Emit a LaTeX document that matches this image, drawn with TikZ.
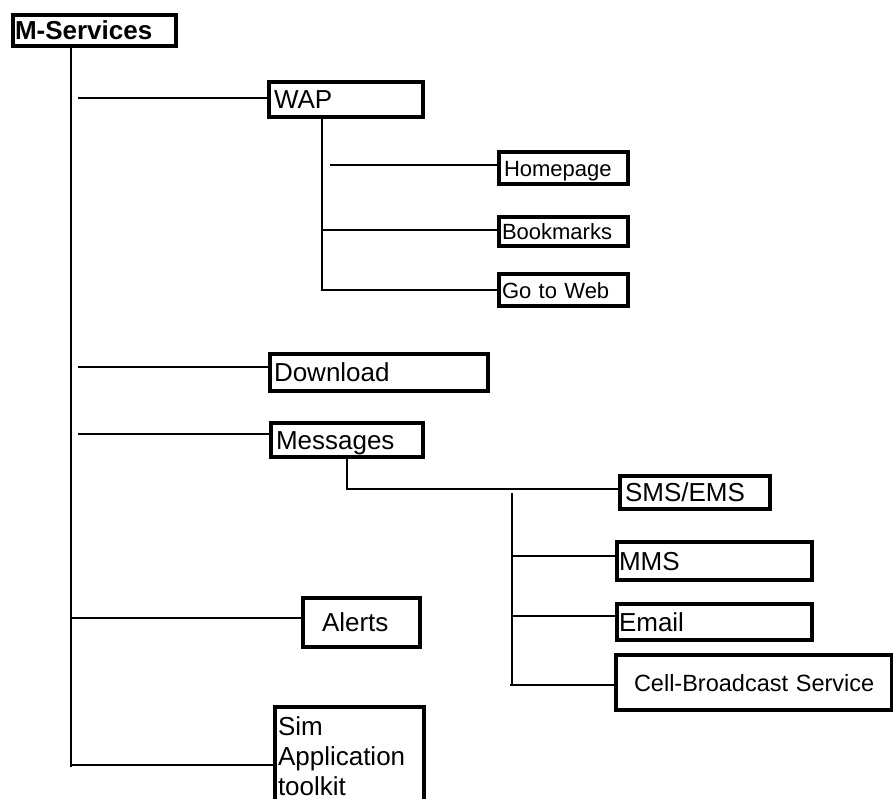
\documentclass[tikz,border=0pt]{standalone}
\usepackage{fontspec}
\setmainfont{Liberation Sans}
\begin{document}
\begin{tikzpicture}[x=1pt,y=-1pt,
  box/.style={draw, line width=4pt, anchor=north west, inner ysep=0pt,
              align=left, text height=18.5pt, text depth=0pt},
  big/.style={font=\fontsize{26pt}{31pt}\selectfont},
  mid/.style={font=\fontsize{23.5pt}{28pt}\selectfont},
  small/.style={font=\fontsize{22pt}{26pt}\selectfont, text height=16pt},
  link/.style={line width=1.4pt}]
\clip (0,0) rectangle (893,798);
\fill[white] (0,0) rectangle (893,798);

% boxes: width = text width + 2*inner xsep
\node[box, big, inner xsep=2pt, text width=159pt, minimum height=31pt] (ms) at (11,13) {\textbf{M-Services}};
\node[box, big, inner xsep=5pt, text width=144pt, minimum height=35pt] (wap) at (267,80) {WAP};
\node[box, small, inner xsep=5pt, text width=119pt, minimum height=32pt] (home) at (497,150) {Homepage};
\node[box, small, inner xsep=3pt, text width=123pt, minimum height=29pt] (book) at (497,215) {Bookmarks};
\node[box, small, inner xsep=3pt, text width=123pt, minimum height=32pt] (web) at (497,272) {Go to Web};
\node[box, big, inner xsep=4pt, text width=210pt, minimum height=37pt] (down) at (268,352) {Download};
\node[box, big, inner xsep=5pt, text width=142pt, minimum height=34pt] (msg) at (269,421) {Messages};
\node[box, big, inner xsep=5pt, text width=140pt, minimum height=33pt] (sms) at (618,474) {SMS/EMS};
\node[box, big, inner xsep=2pt, text width=191pt, minimum height=38pt] (mms) at (615,540) {MMS};
\node[box, big, inner xsep=2pt, text width=191pt, minimum height=36pt] (email) at (615,602) {Email};
\node[box, mid, inner xsep=18pt, text width=240pt, minimum height=55pt] (cell) at (614,653) {\mbox{Cell-Broadcast Service}};
\node[box, big, inner xsep=19pt, text width=79pt, minimum height=49pt] (alerts) at (301,596) {Alerts};
\node[box, big, inner xsep=3pt, inner ysep=10pt, text width=143pt,
      text height=, text depth=, font=\fontsize{26pt}{30pt}\selectfont] (sim) at (273,705)
      {Sim\\Application\\toolkit};

% main spine
\coordinate (spineEnd) at (71,767);
\draw[link] (ms.south -| spineEnd) -- (spineEnd);
\coordinate (bWap) at (78,98);
\coordinate (bDown) at (78,367);
\coordinate (bMsg) at (78,434);
\coordinate (bAlerts) at (71,618);
\coordinate (bSim) at (71,765);
\draw[link] (bWap) -- (bWap -| wap.west);
\draw[link] (bDown) -- (bDown -| down.west);
\draw[link] (bMsg) -- (bMsg -| msg.west);
\draw[link] (bAlerts) -- (bAlerts -| alerts.west);
\draw[link] (bSim) -- (bSim -| sim.west);

% WAP branch
\coordinate (wx) at (322,290);
\coordinate (hx) at (330,165);
\coordinate (bx) at (322,230);
\draw[link] (wap.south -| wx) -- (wx) -- (wx -| web.west);
\draw[link] (hx) -- (hx -| home.west);
\draw[link] (bx) -- (bx -| book.west);

% Messages branch
\coordinate (mx) at (347,489);
\draw[link] (msg.south -| mx) -- (mx) -- (mx -| sms.west);
\coordinate (sTop) at (512,493);
\coordinate (sEnd) at (512,685);
\draw[link] (sTop) -- (sEnd);
\coordinate (mmx) at (512,556);
\coordinate (ex) at (512,616);
\coordinate (cx) at (510,685);
\draw[link] (mmx) -- (mmx -| mms.west);
\draw[link] (ex) -- (ex -| email.west);
\draw[link] (cx) -- (cx -| cell.west);
\end{tikzpicture}
\end{document}
